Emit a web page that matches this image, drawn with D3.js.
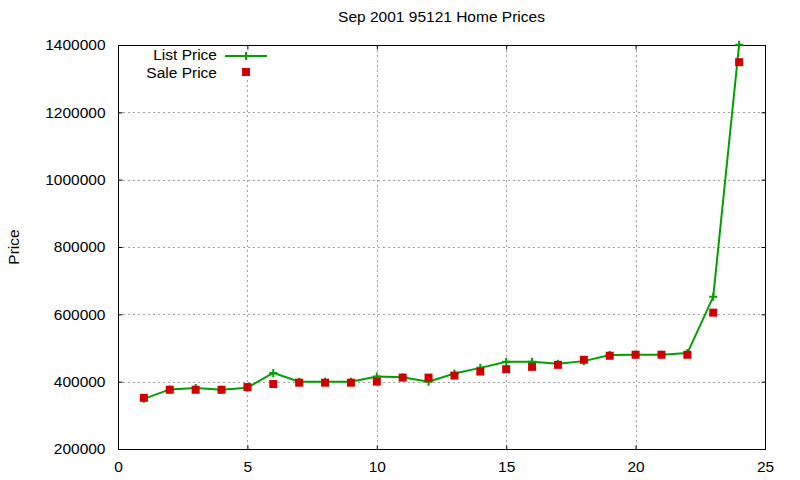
<!DOCTYPE html>
<html>
<head>
<meta charset="utf-8">
<script src="https://cdn.jsdelivr.net/npm/d3@7"></script>
<style>
  html, body { margin: 0; padding: 0; background: #fff; }
  svg text { font-family: "Liberation Sans", Arial, sans-serif; fill: #000; }
</style>
</head>
<body>
<svg id="chart" width="800" height="480"></svg>
<script>
// ---- data ----
const days = [1, 2, 3, 4, 5, 6, 7, 8, 9, 10, 11, 12, 13, 14, 15, 16, 17, 18, 19, 20, 21, 22, 23, 24];
const listPrice = [349000, 377000, 381000, 376000, 382000, 426000, 400000, 400000, 400000, 415000, 413000, 400000,
                   424000, 441000, 459000, 459000, 453000, 461000, 479000, 480000, 480000, 485000, 652000, 1401000];
const salePrice = [352000, 376000, 376000, 376000, 384000, 393000, 397000, 397000, 397000, 400000, 412000, 412000,
                   418000, 430000, 437000, 444000, 450000, 465000, 477000, 480000, 480000, 480000, 605000, 1349000];
const xTicks = [0, 5, 10, 15, 20, 25];
const yTicks = [200000, 400000, 600000, 800000, 1000000, 1200000, 1400000];
const titleText = "Sep 2001 95121 Home Prices";
const yLabel = "Price";
const seriesNames = ["List Price", "Sale Price"];

// ---- layout ----
const svg = d3.select("#chart");
const L = 118, R = 765, T = 45, B = 449;
const x = d3.scaleLinear().domain([0, 25]).range([L, R]);
const y = d3.scaleLinear().domain([200000, 1400000]).range([B, T]);
const green = "#00a000", red = "#d00000";
const fs = "15.5px";

// grid
const grid = svg.append("g").attr("stroke", "#a0a0a0").attr("stroke-width", 1).attr("stroke-dasharray", "2,3");
xTicks.filter(t => t > 0 && t < 25).forEach(t => {
  grid.append("line").attr("x1", Math.round(x(t)) + 0.5).attr("x2", Math.round(x(t)) + 0.5).attr("y1", T).attr("y2", B);
});
yTicks.filter(t => t > 200000 && t < 1400000).forEach(t => {
  grid.append("line").attr("y1", Math.round(y(t)) + 0.5).attr("y2", Math.round(y(t)) + 0.5).attr("x1", L).attr("x2", R);
});

// legend background (hides grid behind the key like the reference)
svg.append("rect").attr("x", 140).attr("y", 49).attr("width", 130).attr("height", 29).attr("fill", "#fff");

// axes with inward mirrored ticks
const tickLen = 4;
const axB = svg.append("g").attr("transform", `translate(0,${B + 0.5})`)
  .call(d3.axisBottom(x).tickValues(xTicks).tickSizeInner(-tickLen).tickSizeOuter(0).tickPadding(9).tickFormat(d3.format("d")));
const axT = svg.append("g").attr("transform", `translate(0,${T + 0.5})`)
  .call(d3.axisTop(x).tickValues(xTicks).tickSizeInner(-tickLen).tickSizeOuter(0).tickFormat(""));
const axL = svg.append("g").attr("transform", `translate(${L + 0.5},0)`)
  .call(d3.axisLeft(y).tickValues(yTicks).tickSizeInner(-tickLen).tickSizeOuter(0).tickPadding(13).tickFormat(d3.format("d")));
const axR = svg.append("g").attr("transform", `translate(${R + 0.5},0)`)
  .call(d3.axisRight(y).tickValues(yTicks).tickSizeInner(-tickLen).tickSizeOuter(0).tickFormat(""));
[axB, axT, axL, axR].forEach(a => {
  a.select(".domain").remove();
  a.selectAll("line").attr("stroke", "#000");
  a.selectAll("text").style("font-size", fs).attr("fill", "#000");
});
axB.selectAll("text").attr("dy", "0.85em");

// border
svg.append("rect").attr("x", L + 0.5).attr("y", T + 0.5).attr("width", R - L).attr("height", B - T)
  .attr("fill", "none").attr("stroke", "#000").attr("stroke-width", 1);

// list price line
const pts = days.map((d, i) => ({ d, l: listPrice[i], s: salePrice[i] }));
svg.append("path").datum(pts)
  .attr("fill", "none").attr("stroke", green).attr("stroke-width", 2)
  .attr("d", d3.line().x(p => x(p.d)).y(p => y(p.l)));
// plus markers
const plus = (g, cx, cy, r) => {
  g.append("path").attr("d", `M${cx - r},${cy}H${cx + r}M${cx},${cy - r}V${cy + r}`)
    .attr("stroke", green).attr("stroke-width", 2).attr("fill", "none");
};
const pg = svg.append("g");
pts.forEach(p => plus(pg, x(p.d), y(p.l), 4));

// sale squares
const sq = 8;
svg.append("g").selectAll("rect").data(pts).join("rect")
  .attr("x", p => x(p.d) - sq / 2).attr("y", p => y(p.s) - sq / 2)
  .attr("width", sq).attr("height", sq).attr("fill", red);

// legend
const lg = svg.append("g");
lg.append("text").attr("x", 217).attr("y", 55).attr("dy", "0.35em").attr("text-anchor", "end")
  .style("font-size", fs).text(seriesNames[0]);
lg.append("line").attr("x1", 225).attr("x2", 267).attr("y1", 56).attr("y2", 56)
  .attr("stroke", green).attr("stroke-width", 2);
plus(lg, 246, 56, 4);
lg.append("text").attr("x", 217).attr("y", 73).attr("dy", "0.35em").attr("text-anchor", "end")
  .style("font-size", fs).text(seriesNames[1]);
lg.append("rect").attr("x", 246 - sq / 2).attr("y", 72 - sq / 2).attr("width", sq).attr("height", sq).attr("fill", red);

// title
svg.append("text").attr("x", (L + R) / 2).attr("y", 22).attr("text-anchor", "middle")
  .style("font-size", fs).text(titleText);

// y label
svg.append("text").attr("transform", `translate(19,${(T + B) / 2}) rotate(-90)`)
  .attr("text-anchor", "middle").style("font-size", fs).text(yLabel);
</script>
</body>
</html>
